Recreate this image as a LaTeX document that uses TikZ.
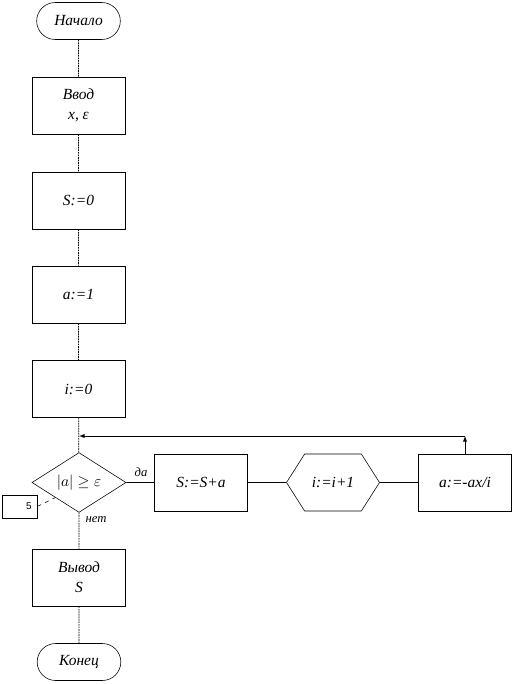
\documentclass[tikz,border=0pt]{standalone}
\usepackage{fontspec}
\setmainfont{Liberation Serif}
\setsansfont{Liberation Sans}
\usetikzlibrary{shapes.geometric,shapes.misc,shapes.symbols}
\begin{document}
\begin{tikzpicture}[x=0.025cm, y=-0.025cm, >=latex,
    every node/.style={font=\fontsize{11}{14}\selectfont\itshape},
    term/.style={draw, rounded rectangle, minimum width=2.325cm, minimum height=0.925cm},
    blok/.style={draw, rectangle, minimum width=2.325cm, minimum height=1.425cm, align=center},
    usl/.style={draw, diamond, minimum width=2.35cm, minimum height=1.425cm, inner sep=0pt},
    cikl/.style={draw, signal, signal to=east and west, signal pointer angle=115, minimum width=2.325cm, minimum height=1.425cm},
    svyaz/.style={line width=0.5pt, dash pattern=on 1.2pt off 0.6pt}]
    \useasboundingbox (0,0) rectangle (515,684);

    % Основная вертикаль блок-схемы
    \node[term] (nach) at (78.5,21) {Начало};
    \node[blok] (vvod) at (78.5,105.5) {Ввод\\x, ε};
    \node[blok] (s0) at (78.5,200.5) {S:=0};
    \node[blok] (a1) at (78.5,294.5) {a:=1};
    \node[blok] (i0) at (78.5,389) {i:=0};
    \node[usl] (usl) at (79,482.5) {$|a|\geq\varepsilon$};
    \node[blok] (vyvod) at (79,577.5) {Вывод\\S};
    \node[term] (kon) at (79,662) {Конец};

    % Тело цикла
    \node[blok] (ss) at (201,482.5) {S:=S+a};
    \node[cikl] (ii) at (333,482.5) {i:=i+1};
    \node[blok] (aa) at (465,482.5) {a:=-ax/i};

    % Подписи ветвей и комментарий
    \node (da) at (141,472) {\small да};
    \node (net) at (96,520) {\small нет};
    \node[draw, rectangle, minimum width=0.875cm, minimum height=0.575cm, text width=0.6cm, align=right,
        font=\sffamily\scriptsize] (kom) at (19.5,506.5) {5};

    % Связи
    \draw[svyaz] (nach) -- (vvod) -- (s0) -- (a1) -- (i0) -- (usl) -- (vyvod) -- (kon);
    \draw (usl) -- (ss) -- (ii) -- (aa);
    \coordinate (povorot) at (465,436);
    \coordinate (vhod) at (79,436);
    \draw[->] (aa.north) -- (povorot);
    \draw[->] (povorot) -- (vhod);
    \draw[dashed] (kom.east) -- (usl.south west);
\end{tikzpicture}
\end{document}
